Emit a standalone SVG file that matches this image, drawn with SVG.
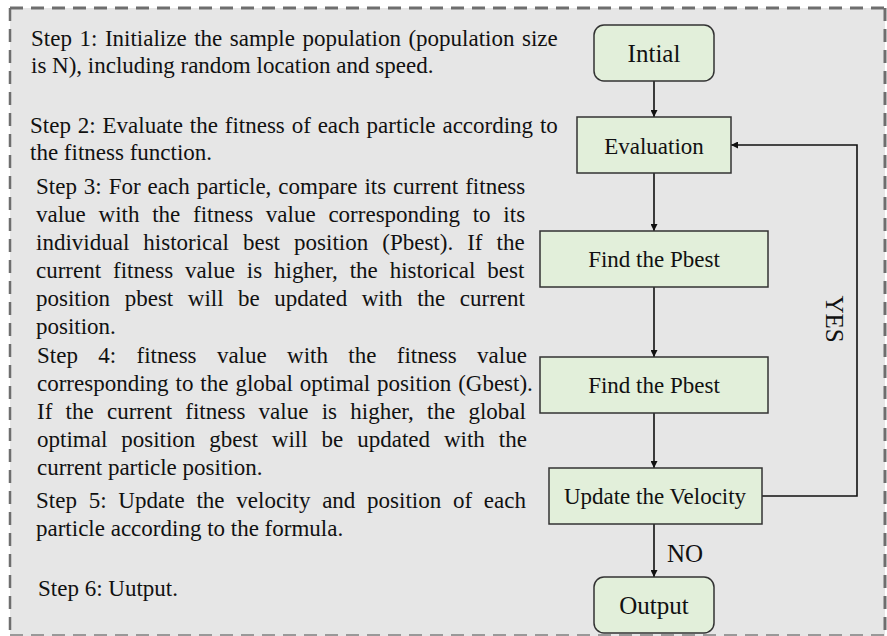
<svg xmlns="http://www.w3.org/2000/svg" width="887" height="636" viewBox="0 0 887 636">
<style>
.st{font-family:"Liberation Serif","Times New Roman",serif;font-size:23px;fill:#111}
.nt{font-family:"Liberation Serif","Times New Roman",serif;fill:#111;text-anchor:middle}
.box{fill:#e2efda;stroke:#333;stroke-width:1.5}
.cn{fill:none;stroke:#111;stroke-width:1.6}
</style>
<defs>
<marker id="ah" viewBox="0 0 10 10" refX="10" refY="5" markerWidth="7" markerHeight="7" markerUnits="userSpaceOnUse" orient="auto">
<path d="M0,0 L10,5 L0,10 z" fill="#111"/>
</marker>
</defs>
<rect x="10" y="8" width="875" height="628" fill="#e6e6e6"/>
<g id="border" fill="none" stroke="#6e6e6e">
<line x1="10" y1="8" x2="885" y2="8" stroke-width="3" stroke-dasharray="13 8"/>
<line x1="885" y1="8" x2="885" y2="636" stroke-width="3" stroke-dasharray="13 8"/>
<line x1="10" y1="8" x2="10" y2="636" stroke-width="2.5" stroke-dasharray="13 8"/>
<line x1="10" y1="635" x2="885" y2="635" stroke="#999" stroke-width="2" stroke-dasharray="13 8"/>
</g>
<g id="steps" class="st">
<text x="31" y="46" word-spacing="1.8">Step 1: Initialize the sample population (population size</text>
<text x="31" y="73">is N), including random location and speed.</text>
<text x="30" y="133" word-spacing="1.1">Step 2: Evaluate the fitness of each particle according to</text>
<text x="30" y="160">the fitness function.</text>
<text x="36" y="194" word-spacing="1.2">Step 3: For each particle, compare its current fitness</text>
<text x="36" y="222" word-spacing="7">value with the fitness value corresponding to its</text>
<text x="36" y="250" word-spacing="8.3">individual historical best position (Pbest). If the</text>
<text x="36" y="278" word-spacing="6.2">current fitness value is higher, the historical best</text>
<text x="36" y="306" word-spacing="8.8">position pbest will be updated with the current</text>
<text x="36" y="334">position.</text>
<text x="37" y="363" word-spacing="14.6">Step 4: fitness value with the fitness value</text>
<text x="37" y="391" word-spacing="1.2">corresponding to the global optimal position (Gbest).</text>
<text x="37" y="419" word-spacing="7.5">If the current fitness value is higher, the global</text>
<text x="37" y="447" word-spacing="8.2">optimal position gbest will be updated with the</text>
<text x="37" y="475">current particle position.</text>
<text x="36" y="508" word-spacing="6">Step 5: Update the velocity and position of each</text>
<text x="36" y="536">particle according to the formula.</text>
<text x="38" y="596">Step 6: Uutput.</text>
</g>
<g id="connectors">
<line class="cn" x1="654" y1="81" x2="654" y2="117" marker-end="url(#ah)"/>
<line class="cn" x1="654" y1="173" x2="654" y2="231" marker-end="url(#ah)"/>
<line class="cn" x1="654" y1="287" x2="654" y2="357" marker-end="url(#ah)"/>
<line class="cn" x1="654" y1="413" x2="654" y2="468" marker-end="url(#ah)"/>
<line class="cn" x1="654" y1="524" x2="654" y2="577" marker-end="url(#ah)"/>
<polyline class="cn" points="762,496 857,496 857,145 731,145" marker-end="url(#ah)"/>
<text class="nt" x="685" y="562" font-size="25">NO</text>
<text class="nt" font-size="25" transform="translate(826,319) rotate(90)">YES</text>
</g>
<g id="n-initial">
<rect class="box" x="594" y="25" width="120" height="56" rx="10"/>
<text class="nt" x="654" y="62" font-size="25">Intial</text>
</g>
<g id="n-evaluation">
<rect class="box" x="577" y="117" width="154" height="56"/>
<text class="nt" x="654" y="154" font-size="23">Evaluation</text>
</g>
<g id="n-pbest1">
<rect class="box" x="540" y="231" width="228" height="56"/>
<text class="nt" x="654" y="267" font-size="23">Find the Pbest</text>
</g>
<g id="n-pbest2">
<rect class="box" x="540" y="357" width="228" height="56"/>
<text class="nt" x="654" y="393" font-size="23">Find the Pbest</text>
</g>
<g id="n-update">
<rect class="box" x="549" y="468" width="213" height="56"/>
<text class="nt" x="655" y="504" font-size="23">Update the Velocity</text>
</g>
<g id="n-output">
<rect class="box" x="594" y="577" width="120" height="56" rx="10"/>
<text class="nt" x="654" y="614" font-size="25">Output</text>
</g>
</svg>
